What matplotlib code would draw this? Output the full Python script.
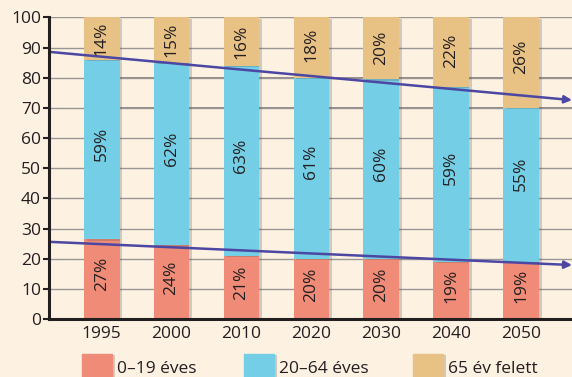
import matplotlib
matplotlib.use("Agg")
import matplotlib.pyplot as plt
import matplotlib.patheffects as pe
from matplotlib.patches import Rectangle

plt.rcParams['font.family'] = ['Open Sans', 'DejaVu Sans']

years = ["1995", "2000", "2010", "2020", "2030", "2040", "2050"]
# printed percentages
young = [27, 24, 21, 20, 20, 19, 19]     # 0-19 éves
working = [59, 62, 63, 61, 60, 59, 55]   # 20-64 éves
old = [14, 15, 16, 18, 20, 22, 26]       # 65 év felett
# segment boundaries as drawn in the picture (not quite the printed numbers)
red_top = [26.5, 24.5, 21, 20, 20, 19, 19]
blue_top = [86, 85, 84, 80, 79.5, 77, 70]
legend_labels = ["0–19 éves", "20–64 éves", "65 év felett"]

# trend arrows (start/end values)
upper_trend = [88.6, 72.6]
lower_trend = [25.6, 17.9]

bg = "#fdf1e2"
c_young = "#ef8b77"
c_work = "#74cee5"
c_old = "#e8c185"
txt = "#231f20"
arrow_c = "#4b47a3"
fs = 12.5

fig = plt.figure(figsize=(5.72, 3.77), dpi=100, facecolor=bg)
ax = fig.add_axes([0.0862, 0.1538, 0.9138, 0.7998], facecolor=bg)

x = list(range(len(years)))
w = 0.51
shadow = [pe.SimplePatchShadow(offset=(2, -1), alpha=0.25, shadow_rgbFace="#555555"), pe.Normal()]

b1 = ax.bar(x, red_top, w, color=c_young, zorder=2)
b2 = ax.bar(x, [b - r for b, r in zip(blue_top, red_top)], w, bottom=red_top,
            color=c_work, zorder=2)
b3 = ax.bar(x, [100 - b for b in blue_top], w, bottom=blue_top, color=c_old, zorder=2)
for bars in (b1, b2, b3):
    for p in bars:
        p.set_path_effects(shadow)

for i in x:
    ax.text(i, young[i] / 2 + 1.5, f"{young[i]}%", rotation=90, ha="center", va="center",
            fontsize=fs, color=txt, zorder=4)
    ax.text(i, young[i] + working[i] / 2 + 1.5, f"{working[i]}%", rotation=90,
            ha="center", va="center", fontsize=fs, color=txt, zorder=4)
    ax.text(i, 100 - old[i] / 2, f"{old[i]}%", rotation=90, ha="center", va="center",
            fontsize=fs, color=txt, zorder=4)

xl = (-0.75, 6.73)
for tr in (upper_trend, lower_trend):
    ax.annotate("", xy=(xl[1], tr[1]), xytext=(xl[0], tr[0]),
                arrowprops=dict(arrowstyle="-|>", color=arrow_c, lw=1.8,
                                mutation_scale=11, shrinkA=0, shrinkB=0),
                zorder=5, annotation_clip=False)

ax.set_xlim(*xl)
ax.set_ylim(0, 100)
ax.set_yticks(range(0, 101, 10))
ax.set_xticks(x)
ax.set_xticklabels(years)
ax.grid(axis="y", color="#9a9694", lw=1, zorder=0)
# two gridlines are printed a bit heavier from the first gap onwards
for gy in (70, 80):
    ax.axhline(gy, xmin=0.13, color="#938c89", lw=1.4, zorder=0.5)
ax.tick_params(axis="y", length=4, width=1.5, color=txt, labelsize=fs, labelcolor=txt, pad=2)
ax.tick_params(axis="x", length=0, labelsize=fs, labelcolor=txt, pad=5)
for s in ("top", "right"):
    ax.spines[s].set_visible(False)
for s in ("left", "bottom"):
    ax.spines[s].set_linewidth(2.2)
    ax.spines[s].set_color(txt)
    ax.spines[s].set_zorder(6)

# legend along the bottom
leg_x = [0.1434, 0.4266, 0.722]
for lx, lab, col in zip(leg_x, legend_labels, [c_young, c_work, c_old]):
    fig.patches.append(Rectangle((lx, -0.02), 0.0524, 0.081, transform=fig.transFigure,
                                 color=col, path_effects=shadow))
    fig.text(lx + 0.062, 0.022, lab, fontsize=fs, color=txt, va="center")

fig.savefig("out.png", dpi=100, facecolor=bg)
